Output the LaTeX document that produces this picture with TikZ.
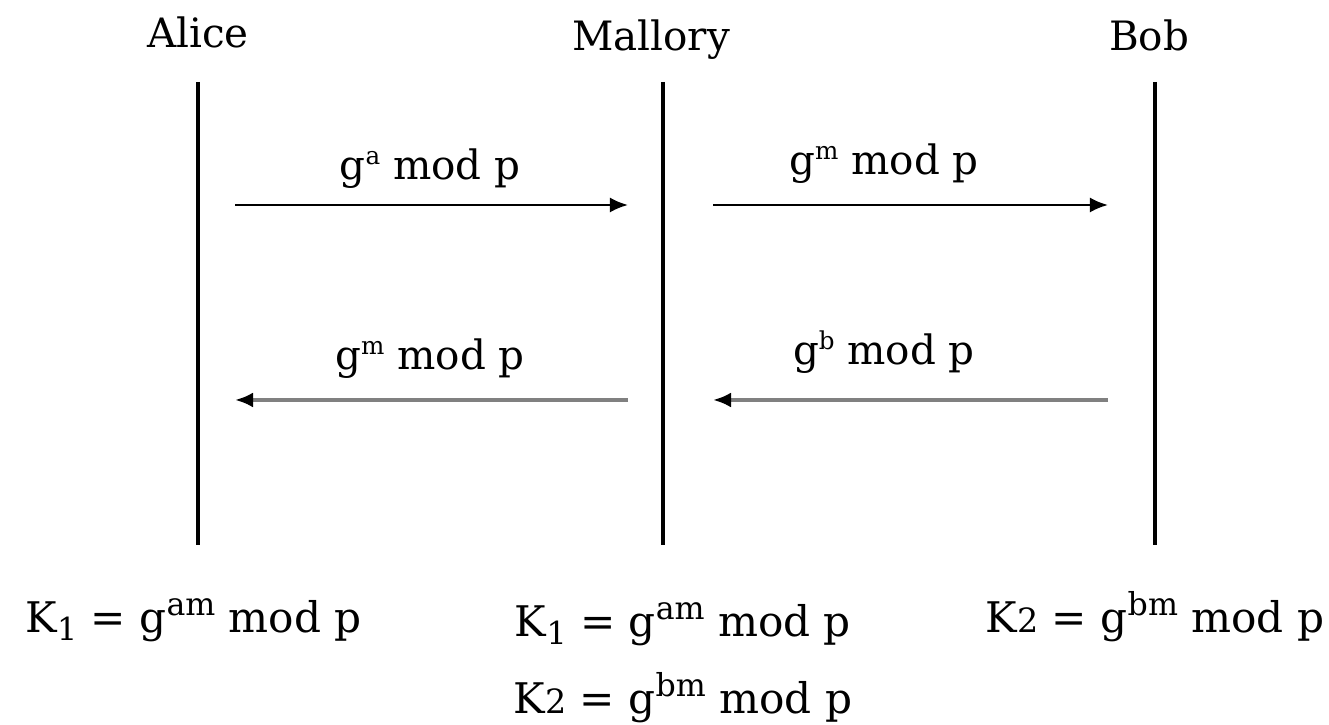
\documentclass[tikz,border=0pt]{standalone}
\usepackage{fontspec}
\setmainfont{DejaVu Serif}
\usepackage{tikz}
\usetikzlibrary{arrows.meta}
\newcommand\smpow[1]{\raisebox{0.75ex}{\fontsize{7}{8}\selectfont #1}}
\newcommand\bigpow[1]{\raisebox{0.8ex}{\fontsize{9}{9}\selectfont #1}}
\newcommand\subone{\raisebox{-0.35ex}{\fontsize{9}{9}\selectfont 1}}
\newcommand\oldtwo{{\fontsize{9.5}{9}\selectfont 2}}

\begin{document}
\begin{tikzpicture}[x=0.01cm, y=-0.01cm,
	every node/.style={font=\fontsize{11.5}{14}\selectfont, inner sep=0pt},
	key/.style={font=\fontsize{12}{14}\selectfont},
	lifeline/.style={line width=1.1pt},
	msg/.style={line width=0.7pt, -{Latex[length=0.18cm, width=0.15cm]}},
	reply/.style={line width=1pt, draw=black!50, -{Latex[length=0.18cm, width=0.15cm, color=black]}}]
		\useasboundingbox (0, 0) rectangle (1329, 725);
		\pgfmathsetmacro\top{82}
		\pgfmathsetmacro\bot{545}
		\pgfmathsetmacro\ya{205}
		\pgfmathsetmacro\yb{400}
		\coordinate (a1) at (198, \top);
		\coordinate (a2) at (198, \bot);
		\coordinate (m1) at (663, \top);
		\coordinate (m2) at (663, \bot);
		\coordinate (b1) at (1155, \top);
		\coordinate (b2) at (1155, \bot);
		\coordinate (p1) at (235, \ya);
		\coordinate (p2) at (628, \ya);
		\coordinate (p3) at (713, \ya);
		\coordinate (p4) at (1108, \ya);
		\coordinate (q1) at (235, \yb);
		\coordinate (q2) at (628, \yb);
		\coordinate (q3) at (713, \yb);
		\coordinate (q4) at (1108, \yb);
		\node (alice) at (198, 32) {Alice};
		\node (mallory) at (651, 40) {Mallory};
		\node (bob) at (1149, 35) {Bob};
		\draw[lifeline] (a1) -- (a2);
		\draw[lifeline] (m1) -- (m2);
		\draw[lifeline] (b1) -- (b2);
		\draw[msg] (p1) -- (p2);
		\draw[msg] (p3) -- (p4);
		\draw[reply] (q2) -- (q1);
		\draw[reply] (q4) -- (q3);
		\node[anchor=base] (ga) at (430, 180) {g\smpow{a} mod p};
		\node[anchor=base] (gm1) at (884, 175) {g\smpow{m} mod p};
		\node[anchor=base] (gm2) at (430, 370) {g\smpow{m} mod p};
		\node[anchor=base] (gb) at (884, 365) {g\smpow{b} mod p};
		\node[key, anchor=base west] (ka) at (25, 633) {K\subone{} = g\bigpow{am} mod p};
		\node[key, anchor=base] (km1) at (683, 637) {K\subone{} = g\bigpow{am} mod p};
		\node[key, anchor=base] (km2) at (683, 714) {K\oldtwo{} = g\bigpow{bm} mod p};
		\node[key, anchor=base east] (kb) at (1325, 633) {K\oldtwo{} = g\bigpow{bm} mod p};
	\end{tikzpicture}
\end{document}
